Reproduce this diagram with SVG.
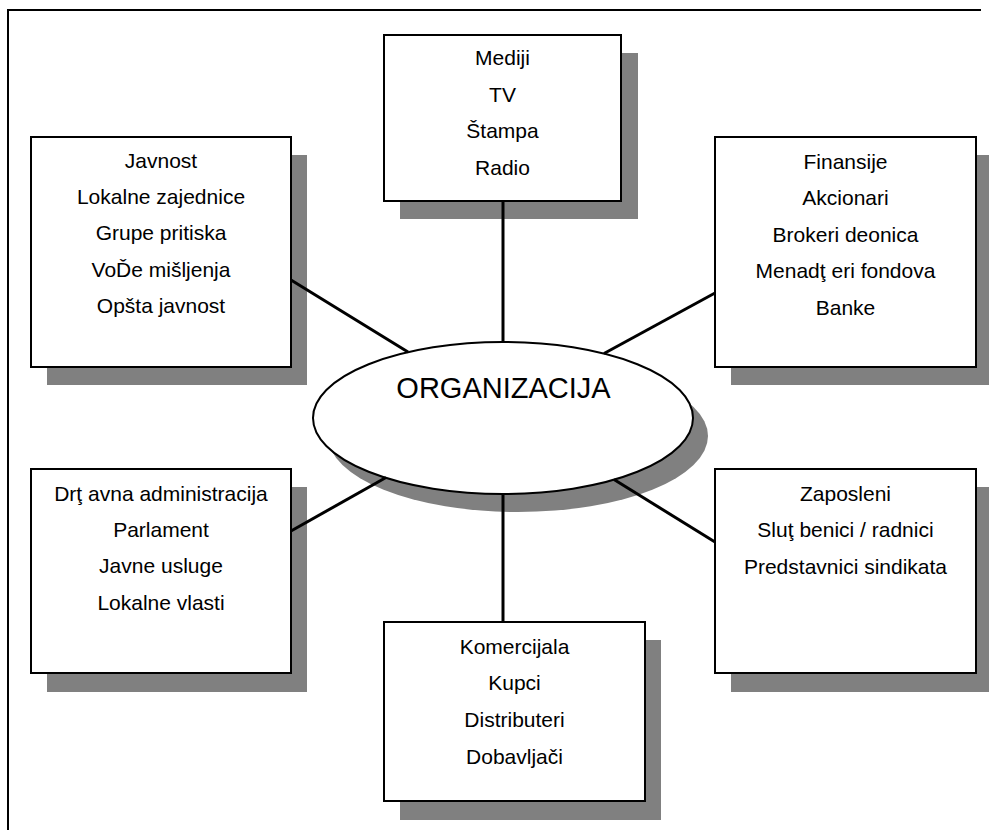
<svg xmlns="http://www.w3.org/2000/svg" width="989" height="830" viewBox="0 0 989 830">
<style>
.frame{fill:none;stroke:#000;stroke-width:2}
.shadow{fill:#808080;stroke:none}
.box{fill:#fff;stroke:#000;stroke-width:2}
.conn{stroke:#000;stroke-width:3;fill:none}
text{font-family:"Liberation Sans",Arial,sans-serif;font-size:21px;fill:#000;text-anchor:middle}
.big{font-size:29px}
</style>
<rect x="0" y="0" width="989" height="830" fill="#fff"/>
<path class="frame" d="M8,830 V10 H981"/>

<g id="node-javnost">
<rect class="shadow" x="47" y="155" width="260" height="230"/>
<rect class="box" x="31" y="137" width="260" height="230"/>
<text x="161" y="168">Javnost</text>
<text x="161" y="204">Lokalne zajednice</text>
<text x="161" y="240">Grupe pritiska</text>
<text x="161" y="277">VoĎe mišljenja</text>
<text x="161" y="313">Opšta javnost</text>
</g>

<g id="node-mediji">
<rect class="shadow" x="400" y="53" width="238" height="166"/>
<rect class="box" x="384" y="35" width="237" height="166"/>
<text x="502.5" y="65">Mediji</text>
<text x="502.5" y="101.5">TV</text>
<text x="502.5" y="138">Štampa</text>
<text x="502.5" y="175">Radio</text>
</g>

<g id="node-finansije">
<rect class="shadow" x="731" y="155" width="258" height="230"/>
<rect class="box" x="715" y="137" width="261" height="230"/>
<text x="845.5" y="169">Finansije</text>
<text x="845.5" y="205">Akcionari</text>
<text x="845.5" y="241.5">Brokeri deonica</text>
<text x="845.5" y="278">Menadţ eri fondova</text>
<text x="845.5" y="315">Banke</text>
</g>

<g id="node-drzavna">
<rect class="shadow" x="47" y="487" width="260" height="205"/>
<rect class="box" x="31" y="469" width="260" height="204"/>
<text x="161" y="500.5">Drţ avna administracija</text>
<text x="161" y="536.5">Parlament</text>
<text x="161" y="573">Javne usluge</text>
<text x="161" y="610">Lokalne vlasti</text>
</g>

<g id="node-zaposleni">
<rect class="shadow" x="731" y="487" width="258" height="205"/>
<rect class="box" x="715" y="469" width="261" height="204"/>
<text x="845.5" y="500.5">Zaposleni</text>
<text x="845.5" y="537">Sluţ benici / radnici</text>
<text x="845.5" y="573.5">Predstavnici sindikata</text>
</g>

<g id="node-komercijala">
<rect class="shadow" x="400" y="640" width="261" height="180"/>
<rect class="box" x="384" y="622" width="261" height="179"/>
<text x="514.5" y="653.5">Komercijala</text>
<text x="514.5" y="690">Kupci</text>
<text x="514.5" y="726.5">Distributeri</text>
<text x="514.5" y="763.5">Dobavljači</text>
</g>

<g id="node-organizacija">
<ellipse class="shadow" cx="518" cy="436" rx="190" ry="76"/>
<ellipse class="box" cx="503" cy="418" rx="190" ry="76"/>
<text class="big" x="503.5" y="398">ORGANIZACIJA</text>
</g>

<g id="connectors">
<line class="conn" x1="503" y1="201" x2="503" y2="342"/>
<line class="conn" x1="291" y1="280" x2="408" y2="352"/>
<line class="conn" x1="715" y1="293" x2="604" y2="353.5"/>
<line class="conn" x1="291" y1="531" x2="386" y2="477.5"/>
<line class="conn" x1="715" y1="542" x2="614" y2="479.5"/>
<line class="conn" x1="503" y1="494" x2="503" y2="622"/>
</g>
</svg>
